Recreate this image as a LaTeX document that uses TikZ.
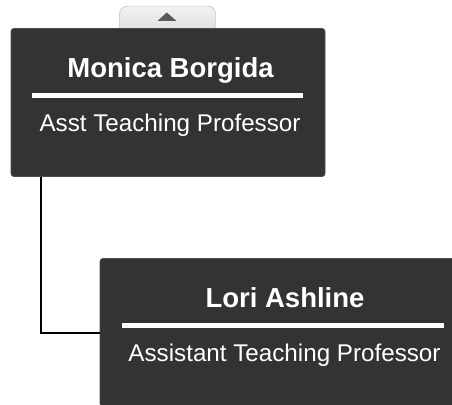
\documentclass[tikz,border=0pt]{standalone}
\usepackage{fontspec}
\setmainfont{Liberation Sans}
\begin{document}
\begin{tikzpicture}[x=1pt,y=-1pt,
  card/.style={draw=black!70!white, fill=black!80, rounded corners=3pt, line width=0.8pt, inner sep=0pt, minimum width=314pt, minimum height=148pt},
  wide/.style={card, minimum width=368pt},
  nametext/.style={text=white, font=\fontsize{27.5}{32}\selectfont\bfseries, anchor=base, inner sep=0pt},
  roletext/.style={text=white, font=\fontsize{24.2}{28}\selectfont, anchor=base, inner sep=0pt},
  rule/.style={white, line width=5pt},
  link/.style={black, line width=2pt}
]
\useasboundingbox (0,0) rectangle (452,404);
\clip (0,0) rectangle (452,404);
% tab
\node[draw=black!30, top color=black!5, bottom color=black!15, rounded corners=8pt, minimum width=96pt, minimum height=32pt, inner sep=0pt] (tab) at (167.5,22) {};
\fill[black!65] (157.5,21) -- (166.8,12.5) -- (176.5,21) -- cycle;
% boxes
\node[card] (b1) at (168,102.5) {};
\node[wide] (b2) at (284,332.5) {};
% connector
\coordinate (vx) at (41,0);
\coordinate (elbow) at (41,332.7);
\draw[link] (b1.south -| vx) -- (elbow) -- (b2.west |- elbow);
% texts
\node[nametext] (n1) at (170.5,77.7) {Monica Borgida};
\draw[rule] (32,95) -- (303,95);
\node[roletext] (r1) at (170,131.7) {Asst Teaching Professor};
\node[nametext] (n2) at (285,307.3) {Lori Ashline};
\draw[rule] (122,325.7) -- (444,325.7);
\node[roletext] (r2) at (284.5,361.7) {Assistant Teaching Professor};
\end{tikzpicture}
\end{document}
